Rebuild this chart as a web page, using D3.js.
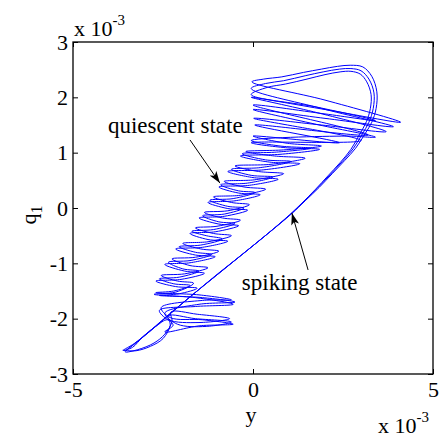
<!DOCTYPE html>
<html><head><meta charset="utf-8">
<script src="https://cdn.jsdelivr.net/npm/d3@7"></script>
<style>html,body{margin:0;padding:0;background:#fff;} svg{display:block;} text{font-family:"Liberation Serif", "Times New Roman", serif;}</style>
</head><body>
<svg id="chart" width="444" height="437" font-family="Liberation Serif"></svg>
<script>
// ---- data (values in units of 1e-3) ----
const xTickValues = [-5, 0, 5];
const yTickValues = [-3, -2, -1, 0, 1, 2, 3];
const xAxisLabel = "y";
const yAxisLabel = "q";
const yAxisLabelSub = "1";
const exponentBase = "x 10";
const exponentPower = "-3";

const quiescentA = [
[-3.62,-2.57],[-3.25,-2.58],[-2.85,-2.50],[-2.50,-2.36],[-2.30,-2.12],[-2.35,-1.95],
[-1.60,-2.00],[-0.60,-2.06],[-1.30,-2.14],[-2.10,-2.10],[-2.45,-1.90],
[-1.50,-1.74],[-0.50,-1.70],[-1.40,-1.62],[-2.60,-1.58],
[-2.05,-1.55],[-1.55,-1.45],[-2.15,-1.42],[-2.70,-1.32],[-2.00,-1.29],[-1.35,-1.18],
[-1.90,-1.14],[-2.45,-1.02],[-1.75,-0.99],[-1.05,-0.88],[-1.60,-0.85],[-2.15,-0.74],
[-1.40,-0.71],[-0.70,-0.60],[-1.25,-0.57],[-1.75,-0.46],[-1.05,-0.43],[-0.40,-0.32],
[-0.95,-0.29],[-1.50,-0.18],[-0.80,-0.15],[-0.15,-0.04],[-0.70,-0.01],[-1.25,0.10],
[-0.50,0.13],[0.20,0.24],[-0.40,0.27],[-0.95,0.38],[-0.10,0.41],[0.70,0.52],
[0.00,0.55],[-0.70,0.66],[0.30,0.69],[1.30,0.80],[0.45,0.83],[-0.35,0.94],
[0.75,0.97],[1.85,1.06],[0.90,1.09],[-0.05,1.18],
[3.00,1.22],[0.02,1.62],[1.90,1.50],[3.70,1.38],[1.80,1.72],[-0.05,2.00],
[2.00,1.78],[4.10,1.55],[2.00,1.95],[-0.03,2.28]
];
const spikeA = [
[0.30,2.33],[0.80,2.37],[1.40,2.45],[1.90,2.51],[2.35,2.56],[2.70,2.58],[3.05,2.55],
[3.30,2.38],[3.44,2.10],[3.42,1.80],[3.30,1.55],[3.12,1.35],[2.85,1.08],[2.55,0.86],
[2.20,0.62],[1.85,0.38],[1.45,0.13],[1.08,-0.10],[0.40,-0.47],[-0.30,-0.84],
[-1.00,-1.20],[-1.70,-1.58],[-2.40,-1.96],[-2.90,-2.24],[-3.30,-2.45],[-3.60,-2.57]
];
const quiescentB = [
[-3.35,-2.52],[-3.05,-2.32],[-2.70,-2.14],[-2.38,-2.02],[-2.22,-2.12],[-2.45,-2.24],
[-1.50,-2.13],[-0.55,-2.10],[-1.40,-2.02],[-2.30,-1.98],[-2.55,-1.80],
[-1.40,-1.67],[-0.60,-1.66],[-1.50,-1.57],[-2.70,-1.53],
[-2.20,-1.50],[-1.75,-1.40],[-2.20,-1.37],[-2.60,-1.28],[-2.05,-1.25],[-1.50,-1.14],
[-1.95,-1.10],[-2.35,-0.98],[-1.75,-0.95],[-1.15,-0.84],[-1.60,-0.80],[-2.05,-0.70],
[-1.45,-0.67],[-0.85,-0.56],[-1.30,-0.50],[-1.70,-0.42],[-1.10,-0.39],[-0.50,-0.28],
[-0.95,-0.25],[-1.40,-0.14],[-0.80,-0.11],[-0.25,0.00],[-0.70,0.03],[-1.20,0.14],
[-0.55,0.17],[0.05,0.28],[-0.40,0.31],[-0.90,0.42],[-0.15,0.45],[0.55,0.56],
[-0.05,0.59],[-0.60,0.70],[0.20,0.73],[1.05,0.84],[0.35,0.87],[-0.30,0.98],
[0.65,1.01],[1.60,1.08],[0.75,1.12],[-0.05,1.22],
[2.60,1.30],[3.40,1.28],[1.70,1.52],[0.00,1.78],[2.00,1.62],[3.90,1.47],
[1.90,1.80],[-0.05,2.16]
];
const spikeB = [
[0.35,2.25],[0.85,2.30],[1.45,2.39],[1.95,2.46],[2.40,2.51],[2.72,2.52],[3.00,2.48],
[3.22,2.33],[3.36,2.08],[3.34,1.80],[3.22,1.55],[3.03,1.33],[2.78,1.07],[2.48,0.84],
[2.14,0.60],[1.79,0.36],[1.40,0.11],[1.05,-0.11],[0.38,-0.48],[-0.32,-0.85],
[-1.02,-1.22],[-1.72,-1.59],[-2.42,-1.98],[-2.92,-2.26],[-3.32,-2.47],[-3.55,-2.60]
];
const quiescentC = [
[-3.20,-2.56],[-2.75,-2.44],[-2.45,-2.28],[-2.25,-2.05],[-2.28,-1.88],
[-1.55,-1.92],[-0.65,-2.00],[-1.50,-2.07],[-2.35,-2.02],[-2.60,-1.85],
[-1.60,-1.78],[-0.55,-1.74],[-1.60,-1.62],[-2.75,-1.56],
[-2.15,-1.52],[-1.65,-1.36],[-2.10,-1.32],[-2.55,-1.22],[-1.90,-1.19],[-1.25,-1.08],
[-1.75,-1.04],[-2.25,-0.92],[-1.60,-0.89],[-0.95,-0.78],[-1.45,-0.74],[-1.95,-0.64],
[-1.25,-0.61],[-0.60,-0.50],[-1.10,-0.46],[-1.60,-0.36],[-1.00,-0.33],[-0.35,-0.22],
[-0.85,-0.18],[-1.35,-0.08],[-0.70,-0.05],[-0.10,0.06],[-0.60,0.10],[-1.10,0.20],
[-0.35,0.23],[0.35,0.34],[-0.25,0.38],[-0.80,0.48],[0.05,0.51],[0.85,0.62],
[0.15,0.66],[-0.50,0.76],[0.50,0.79],[1.45,0.90],[0.60,0.94],[-0.20,1.02],
[0.85,1.05],[1.90,1.12],[0.95,1.17],[0.00,1.30],
[2.40,1.18],[0.05,1.50],[3.20,1.32],[0.00,1.86],[2.00,1.70],[3.40,1.58],
[1.80,1.82],[-0.05,2.05]
];
const spikeC = [
[0.40,2.18],[0.90,2.24],[1.50,2.33],[2.00,2.41],[2.42,2.46],[2.72,2.47],[2.98,2.42],
[3.16,2.28],[3.28,2.05],[3.26,1.80],[3.15,1.56],[2.96,1.33],[2.72,1.06],[2.42,0.82],
[2.08,0.58],[1.74,0.34],[1.36,0.09],[1.02,-0.12],[0.36,-0.49],[-0.34,-0.86],
[-1.04,-1.23],[-1.74,-1.60],[-2.44,-1.99],[-2.94,-2.27],[-3.34,-2.48],[-3.50,-2.56]
];

// annotations: text anchor point, arrow tail, arrow tip (data units)
const annotationTexts = ["quiescent state", "spiking state"];
const annotationTextPos = [[-4.03, 1.36], [-0.31, -1.48]];
const annotationArrowTail = [[-1.75, 1.23], [1.53, -1.12]];
const annotationArrowTip = [[-0.92, 0.45], [1.08, -0.09]];

// ---- drawing ----
const svg = d3.select("#chart");
const fontFam = "Liberation Serif";
svg.append("rect").attr("width", 444).attr("height", 437).attr("fill", "#fff");

const plotL = 73, plotR = 433, plotT = 42, plotB = 374;
const x = d3.scaleLinear().domain([-5, 5]).range([plotL, plotR]);
const y = d3.scaleLinear().domain([-3, 3]).range([plotB, plotT]);

svg.append("clipPath").attr("id", "clip")
  .append("rect").attr("x", plotL).attr("y", plotT)
  .attr("width", plotR - plotL).attr("height", plotB - plotT);

const trajectory = [].concat(quiescentA, spikeA, quiescentB, spikeB, quiescentC, spikeC);
const line = d3.line().x(d => x(d[0])).y(d => y(d[1]))
  .curve(d3.curveCatmullRom.alpha(0.5));

svg.append("path").datum(trajectory)
  .attr("clip-path", "url(#clip)")
  .attr("d", line)
  .attr("fill", "none")
  .attr("stroke", "#0000ff")
  .attr("stroke-width", 1)
  .attr("stroke-linejoin", "round");

// axes
const fmt = d => String(d);
const gL = svg.append("g").attr("transform", `translate(${plotL},0)`)
  .call(d3.axisLeft(y).tickValues(yTickValues).tickFormat(fmt).tickSizeInner(-5).tickSizeOuter(0).tickPadding(5));
const gR = svg.append("g").attr("transform", `translate(${plotR},0)`)
  .call(d3.axisRight(y).tickValues(yTickValues).tickFormat("").tickSizeInner(-5).tickSizeOuter(0));
const gB = svg.append("g").attr("transform", `translate(0,${plotB})`)
  .call(d3.axisBottom(x).tickValues(xTickValues).tickFormat(fmt).tickSizeInner(-5).tickSizeOuter(0).tickPadding(7));
const gT = svg.append("g").attr("transform", `translate(0,${plotT})`)
  .call(d3.axisTop(x).tickValues(xTickValues).tickFormat("").tickSizeInner(-5).tickSizeOuter(0));

[gL, gR, gB, gT].forEach(g => {
  g.attr("font-family", fontFam).attr("font-size", 22);
  g.select(".domain").remove();
  g.selectAll(".tick line").attr("stroke", "#000").attr("stroke-width", 1);
  g.selectAll(".tick text").attr("fill", "#000");
});

svg.append("rect").attr("x", plotL).attr("y", plotT)
  .attr("width", plotR - plotL).attr("height", plotB - plotT)
  .attr("fill", "none").attr("stroke", "#000").attr("stroke-width", 1.3);

// axis labels
svg.append("text").attr("x", (plotL + plotR) / 2 - 2).attr("y", 422)
  .attr("text-anchor", "middle").attr("font-size", 22)
  .text(xAxisLabel);

const qt = svg.append("text").attr("transform", "translate(36,215) rotate(-90)")
  .attr("text-anchor", "middle").attr("font-size", 22);
qt.append("tspan").text(yAxisLabel);
qt.append("tspan").attr("dy", 6).attr("font-size", 16).text(yAxisLabelSub);

function exponent(xp, yp) {
  const t = svg.append("text").attr("x", xp).attr("y", yp).attr("font-size", 22);
  t.append("tspan").text(exponentBase);
  t.append("tspan").attr("dy", -11).attr("font-size", 15).text(exponentPower);
}
exponent(plotL + 1, 36);
exponent(378, 433);

// annotations
svg.append("defs").append("marker").attr("id", "ah")
  .attr("viewBox", "0 0 12 8").attr("refX", 12).attr("refY", 4)
  .attr("markerUnits", "userSpaceOnUse").attr("markerWidth", 12).attr("markerHeight", 8)
  .attr("orient", "auto")
  .append("path").attr("d", "M0,0 L12,4 L0,8 L3,4 Z").attr("fill", "#000");

annotationTexts.forEach((s, i) => {
  svg.append("text").attr("x", x(annotationTextPos[i][0])).attr("y", y(annotationTextPos[i][1]))
    .attr("font-size", 23).text(s);
  svg.append("line")
    .attr("x1", x(annotationArrowTail[i][0])).attr("y1", y(annotationArrowTail[i][1]))
    .attr("x2", x(annotationArrowTip[i][0])).attr("y2", y(annotationArrowTip[i][1]))
    .attr("stroke", "#000").attr("stroke-width", 1).attr("marker-end", "url(#ah)");
});
</script>
</body></html>
